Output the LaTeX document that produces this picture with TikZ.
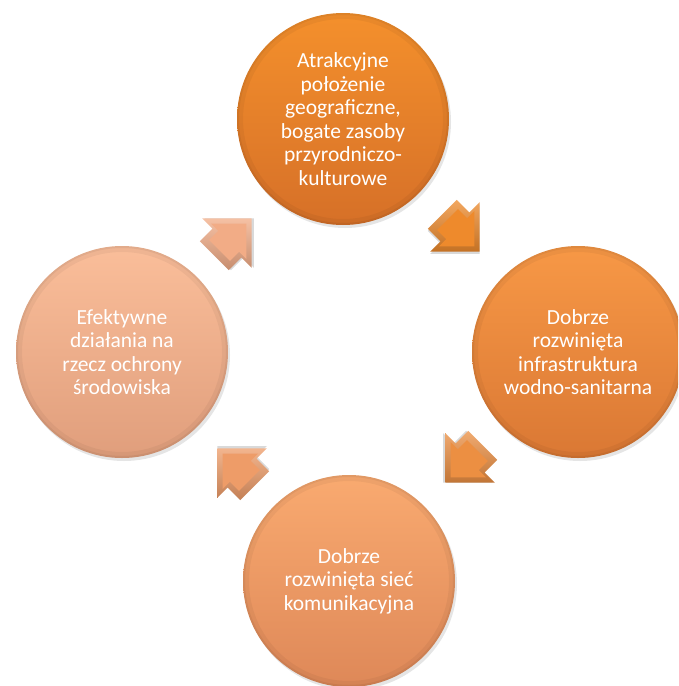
\documentclass[tikz,border=0pt]{standalone}
\usepackage{fontspec}
\setmainfont{Carlito}
\usetikzlibrary{shadows}
\definecolor{cTopA}{RGB}{244,144,44}
\definecolor{cTopB}{RGB}{214,112,40}
\definecolor{cRightA}{RGB}{247,152,70}
\definecolor{cRightB}{RGB}{218,120,52}
\definecolor{cBotA}{RGB}{249,170,112}
\definecolor{cBotB}{RGB}{222,136,88}
\definecolor{cLeftA}{RGB}{250,190,154}
\definecolor{cLeftB}{RGB}{224,158,124}
\definecolor{aOne}{RGB}{242,172,134}
\definecolor{aTwo}{RGB}{238,138,44}
\definecolor{aThree}{RGB}{236,143,66}
\definecolor{aFour}{RGB}{238,156,104}
\tikzset{
  ball/.style={circle, minimum size=212pt, inner sep=0pt, text=white, align=center,
    font=\fontsize{21.5}{23.5}\selectfont,
    drop shadow={opacity=0.2, shadow xshift=2pt, shadow yshift=-3pt}},
  rimA/.style={line width=6pt, draw=black, opacity=0.045},
  rimB/.style={line width=2pt, draw=black, opacity=0.05},
}
\newcommand\blockarrow[4]{%
  \coordinate (#1) at #2;
  \begin{scope}[shift={(#1)}, rotate=#3]
    \fill[black, opacity=0.15, shift={(1.5,1.5)}] (26.5,0) -- (-8.5,35) -- (-8.5,20.5) -- (-26.5,20.5) -- (-26.5,-20.5) -- (-8.5,-20.5) -- (-8.5,-35) -- cycle;
    \shade[top color=#4!75!white, bottom color=#4!82!black] (26.5,0) -- (-8.5,35) -- (-8.5,20.5) -- (-26.5,20.5) -- (-26.5,-20.5) -- (-8.5,-20.5) -- (-8.5,-35) -- cycle;
    \begin{scope}[scale=0.72]
      \fill[#4] (26.5,0) -- (-8.5,35) -- (-8.5,20.5) -- (-26.5,20.5) -- (-26.5,-20.5) -- (-8.5,-20.5) -- (-8.5,-35) -- cycle;
    \end{scope}
  \end{scope}}
\begin{document}
\begin{tikzpicture}[x=1pt, y=-1pt]
  \useasboundingbox (0,0) rectangle (678,686);
  \fill[white] (0,0) rectangle (678,686);
  \clip (0,0) rectangle (678,686);

  \node[ball, top color=cTopA, bottom color=cTopB] (top) at (343,119)
    {Atrakcyjne\\położenie\\geograficzne,\\bogate zasoby\\przyrodniczo-\\kulturowe};
  \node[ball, top color=cRightA, bottom color=cRightB] (right) at (578,352)
    {Dobrze\\rozwinięta\\infrastruktura\\wodno-sanitarna};
  \node[ball, top color=cBotA, bottom color=cBotB] (bottom) at (349,581)
    {Dobrze\\rozwinięta sieć\\komunikacyjna};
  \node[ball, top color=cLeftA, bottom color=cLeftB] (left) at (122,352)
    {Efektywne\\działania na\\rzecz ochrony\\środowiska};

  \foreach \n in {top,right,bottom,left}{
    \draw[rimA] (\n.center) circle (103pt);
    \draw[rimB] (\n.center) circle (105pt);
  }

  \blockarrow{aLT}{(233,237)}{45}{aOne}
  \blockarrow{aTR}{(461,233)}{-45}{aTwo}
  \blockarrow{aRB}{(464,464)}{-135}{aThree}
  \blockarrow{aBL}{(236,467)}{135}{aFour}
\end{tikzpicture}
\end{document}
